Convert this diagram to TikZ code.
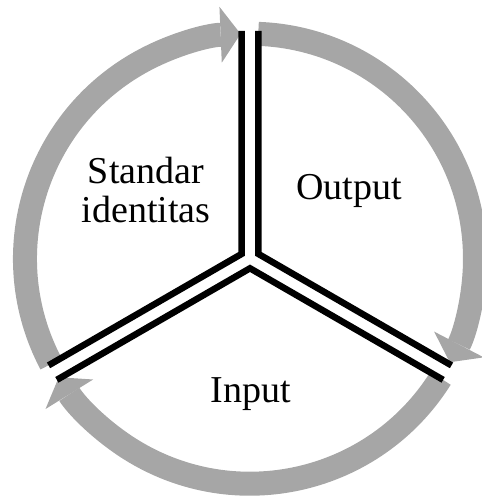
\documentclass[tikz,border=0pt]{standalone}
\usepackage{fontspec}
\setmainfont{Liberation Serif}
\usetikzlibrary{arrows.meta}
\definecolor{ringgrey}{HTML}{A6A6A6}
\begin{document}
\begin{tikzpicture}[
  ring/.style={draw=ringgrey, line width=24pt, -{Triangle[length=20pt,width=56pt,line width=0pt]}},
  sepline/.style={draw=black, line width=6.5pt, line join=miter},
  lbl/.style={font=\fontsize{38}{39}\selectfont, align=center, inner sep=0pt}
]
\useasboundingbox (0,0) rectangle (482pt,499pt);
\coordinate (O) at (250pt,240.3pt);
% grey cycle arcs
\draw[ring] ([shift={(87.9:225pt)}]O) arc[start angle=87.9, end angle=-27.4, radius=225pt];
\draw[ring] ([shift={(-32.1:225pt)}]O) arc[start angle=-32.1, end angle=-148.2, radius=225pt];
\draw[ring] ([shift={(207.9:225pt)}]O) arc[start angle=207.9, end angle=92.4, radius=225pt];
% black separators
\draw[sepline] ([shift={(92.1:228pt)}]O) -- ([shift={(150:9.6pt)}]O) -- ([shift={(207.9:228pt)}]O);
\draw[sepline] ([shift={(212.1:228pt)}]O) -- ([shift={(270:9.6pt)}]O) -- ([shift={(327.9:228pt)}]O);
\draw[sepline] ([shift={(-27.9:228pt)}]O) -- ([shift={(30:9.6pt)}]O) -- ([shift={(87.9:228pt)}]O);
% labels
\node[lbl] (std) at (146pt,309pt) {Standar\\identitas};
\node[lbl, anchor=base] (out) at (349pt,299pt) {Output};
\node[lbl, anchor=base] (inp) at (251pt,96pt) {Input};
\end{tikzpicture}
\end{document}
